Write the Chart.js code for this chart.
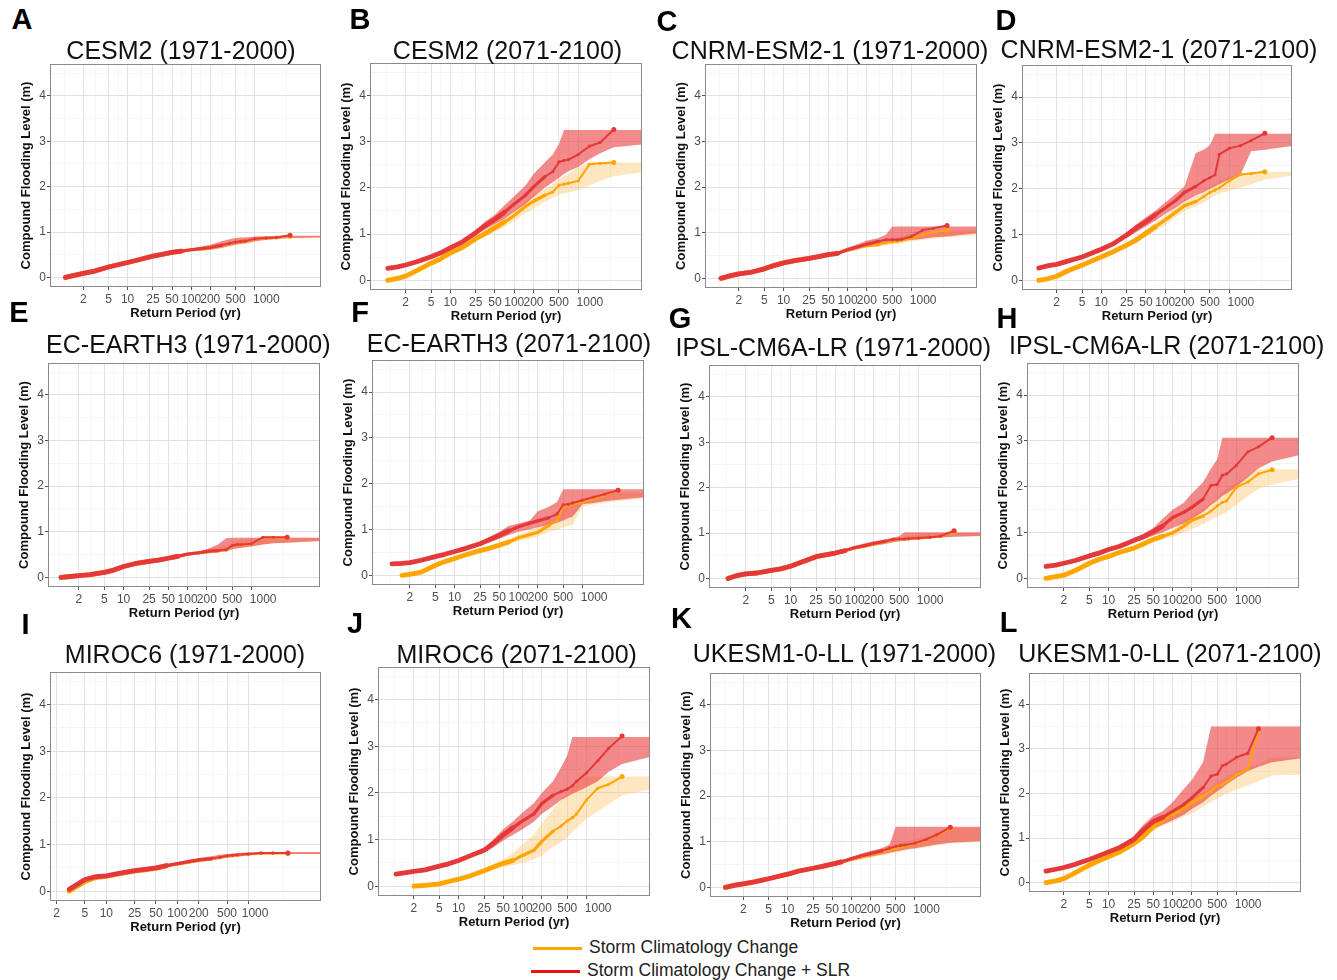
<!DOCTYPE html>
<html>
<head>
<meta charset="utf-8">
<script src="https://cdn.jsdelivr.net/npm/chart.js@4.4.1/dist/chart.umd.min.js"></script>
<style>
  body { margin: 0; background: #fff; width: 1337px; height: 980px; position: relative; overflow: hidden;
         font-family: "Liberation Sans", Arial, Helvetica, sans-serif; }
  .ptitle { position: absolute; font-size: 25px; line-height: 1; color: #111; white-space: nowrap; transform: translate(-50%, -50%); }
  .letter { position: absolute; font-size: 29px; line-height: 1; font-weight: bold; color: #000; transform: translate(-50%, -50%); }
  .lg-line { position: absolute; height: 3px; }
  .lg-text { position: absolute; font-size: 17.5px; line-height: 1; color: #222; white-space: nowrap; transform: translateY(-50%); }
</style>
</head>
<body>
<script>
// return periods (yr) shared by every line; bands get one extra point past the axis end
const RP = [1.05, 1.5, 2, 3, 5, 7, 10, 15, 25, 35, 50, 70, 100, 150, 200, 300, 400, 500, 600, 700, 1000, 1500, 2200, 3600];
const RP_BAND = RP.concat([12000]);

const X_MAJOR = [2, 5, 10, 25, 50, 100, 200, 500, 1000];
const X_MINOR = [1, 3.16, 7.07, 15.8, 35.4, 70.7, 141, 316, 707, 3162];
const Y_MAJOR = [0, 1, 2, 3, 4];
const Y_MINOR = [0.5, 1.5, 2.5, 3.5, 4.5];

// A  CESM2 (1971-2000)
const aRed      = [0.00,0.05,0.09,0.14,0.23,0.28,0.33,0.39,0.47,0.51,0.55,0.58,0.61,0.64,0.66,0.71,0.75,0.78,0.79,0.80,0.85,0.87,0.88,0.93];
const aRedLo    = [-0.02,0.03,0.07,0.12,0.21,0.26,0.31,0.37,0.45,0.49,0.53,0.56,0.58,0.60,0.61,0.65,0.69,0.72,0.74,0.75,0.80,0.83,0.85,0.87,0.88];
const aRedHi    = [0.02,0.07,0.11,0.16,0.25,0.30,0.35,0.41,0.49,0.53,0.57,0.60,0.63,0.68,0.72,0.80,0.84,0.87,0.88,0.88,0.90,0.91,0.92,0.92,0.92];
const aOrange   = [0.00,0.05,0.09,0.14,0.23,0.28,0.33,0.39,0.47,0.51,0.55,0.58,0.61,0.63,0.65,0.70,0.74,0.77,0.78,0.79,0.84,0.86,0.87,0.91];
const aOrangeLo = [-0.02,0.03,0.07,0.12,0.21,0.26,0.31,0.37,0.45,0.49,0.53,0.56,0.59,0.60,0.61,0.65,0.68,0.71,0.73,0.74,0.78,0.82,0.84,0.86,0.87];
const aOrangeHi = [0.02,0.07,0.11,0.16,0.25,0.30,0.35,0.41,0.49,0.53,0.57,0.60,0.63,0.66,0.69,0.75,0.79,0.82,0.84,0.85,0.88,0.90,0.91,0.91,0.91];

// B  CESM2 (2071-2100)
const bRed      = [0.26,0.29,0.33,0.40,0.51,0.59,0.70,0.82,1.03,1.18,1.32,1.47,1.65,1.84,2.02,2.24,2.35,2.56,2.59,2.61,2.72,2.90,2.98,3.26];
const bRedLo    = [0.23,0.26,0.30,0.37,0.48,0.56,0.67,0.79,0.98,1.10,1.22,1.33,1.48,1.65,1.80,2.00,2.12,2.22,2.30,2.36,2.45,2.62,2.75,2.88,2.95];
const bRedHi    = [0.29,0.32,0.36,0.43,0.54,0.62,0.73,0.85,1.08,1.27,1.42,1.62,1.82,2.05,2.30,2.55,2.72,2.95,3.25,3.25,3.25,3.25,3.25,3.25,3.25];
const bOrange   = [0.00,0.04,0.09,0.21,0.37,0.46,0.59,0.70,0.90,1.01,1.14,1.26,1.40,1.60,1.71,1.84,1.91,2.06,2.08,2.10,2.15,2.51,2.53,2.55];
const bOrangeLo = [-0.03,0.01,0.06,0.18,0.34,0.43,0.56,0.67,0.85,0.95,1.05,1.15,1.28,1.45,1.55,1.70,1.78,1.85,1.88,1.90,1.95,2.05,2.15,2.25,2.35];
const bOrangeHi = [0.03,0.07,0.12,0.24,0.40,0.49,0.62,0.73,0.95,1.08,1.22,1.36,1.50,1.72,1.85,1.98,2.08,2.20,2.25,2.30,2.45,2.55,2.55,2.55,2.55];

// C  CNRM-ESM2-1 (1971-2000)
const cRed      = [0.00,0.06,0.10,0.13,0.21,0.28,0.34,0.39,0.44,0.48,0.52,0.55,0.63,0.70,0.75,0.81,0.85,0.85,0.85,0.86,0.92,1.06,1.10,1.16];
const cRedLo    = [-0.02,0.04,0.08,0.11,0.19,0.26,0.32,0.37,0.42,0.46,0.50,0.53,0.58,0.64,0.70,0.74,0.78,0.80,0.81,0.82,0.84,0.87,0.90,0.92,1.00];
const cRedHi    = [0.02,0.08,0.12,0.15,0.23,0.30,0.36,0.41,0.46,0.50,0.54,0.57,0.68,0.76,0.83,0.88,0.96,1.14,1.14,1.14,1.14,1.14,1.14,1.14,1.14];
const cOrange   = [0.00,0.06,0.10,0.13,0.21,0.28,0.34,0.39,0.44,0.48,0.52,0.55,0.63,0.69,0.72,0.74,0.78,0.80,0.81,0.83,0.88,0.96,1.02,1.05];
const cOrangeLo = [-0.02,0.04,0.08,0.11,0.19,0.26,0.32,0.37,0.42,0.46,0.50,0.53,0.60,0.65,0.68,0.70,0.73,0.75,0.76,0.78,0.81,0.84,0.87,0.90,0.95];
const cOrangeHi = [0.02,0.08,0.12,0.15,0.23,0.30,0.36,0.41,0.46,0.50,0.54,0.57,0.66,0.73,0.77,0.80,0.84,0.88,0.90,0.92,0.97,1.03,1.05,1.05,1.05];

// D  CNRM-ESM2-1 (2071-2100)
const dRed      = [0.27,0.32,0.35,0.42,0.51,0.59,0.68,0.79,0.99,1.14,1.28,1.43,1.58,1.76,1.92,2.05,2.17,2.24,2.30,2.75,2.88,2.94,3.05,3.21];
const dRedLo    = [0.24,0.29,0.32,0.39,0.48,0.56,0.65,0.76,0.93,1.05,1.18,1.30,1.45,1.60,1.72,1.85,1.93,2.00,2.05,2.10,2.20,2.30,2.82,2.85,2.95];
const dRedHi    = [0.30,0.35,0.38,0.45,0.54,0.62,0.71,0.82,1.05,1.22,1.38,1.52,1.70,1.90,2.05,2.78,2.85,2.95,3.20,3.20,3.20,3.20,3.20,3.20,3.20];
const dOrange   = [0.00,0.04,0.09,0.21,0.33,0.42,0.51,0.62,0.77,0.88,1.03,1.17,1.32,1.50,1.63,1.72,1.83,1.92,1.97,2.02,2.17,2.31,2.33,2.37];
const dOrangeLo = [-0.03,0.01,0.06,0.18,0.30,0.39,0.48,0.59,0.72,0.82,0.95,1.08,1.20,1.40,1.52,1.62,1.70,1.78,1.85,1.90,1.95,2.02,2.10,2.20,2.30];
const dOrangeHi = [0.03,0.07,0.12,0.24,0.36,0.45,0.54,0.65,0.82,0.95,1.10,1.25,1.42,1.62,1.75,1.85,1.95,2.05,2.12,2.18,2.25,2.32,2.36,2.37,2.37];

// E  EC-EARTH3 (1971-2000)
const eRed      = [0.00,0.02,0.04,0.06,0.11,0.16,0.24,0.30,0.35,0.38,0.42,0.46,0.51,0.54,0.57,0.59,0.61,0.70,0.72,0.72,0.74,0.88,0.88,0.88];
const eRedLo    = [-0.02,0.00,0.02,0.04,0.09,0.14,0.22,0.28,0.33,0.36,0.40,0.44,0.49,0.52,0.53,0.55,0.57,0.62,0.64,0.65,0.68,0.72,0.75,0.76,0.80];
const eRedHi    = [0.02,0.04,0.06,0.08,0.13,0.18,0.26,0.32,0.37,0.40,0.44,0.48,0.53,0.56,0.62,0.72,0.86,0.87,0.87,0.87,0.87,0.87,0.87,0.87,0.87];
const eOrange   = [0.00,0.02,0.04,0.06,0.11,0.16,0.24,0.30,0.35,0.38,0.42,0.46,0.51,0.54,0.56,0.58,0.60,0.69,0.71,0.71,0.73,0.87,0.87,0.87];
const eOrangeLo = [-0.02,0.00,0.02,0.04,0.09,0.14,0.22,0.28,0.33,0.36,0.40,0.44,0.49,0.52,0.53,0.55,0.57,0.62,0.64,0.65,0.68,0.72,0.75,0.76,0.80];
const eOrangeHi = [0.02,0.04,0.06,0.08,0.13,0.18,0.26,0.32,0.37,0.40,0.44,0.48,0.53,0.56,0.60,0.66,0.70,0.76,0.80,0.82,0.85,0.87,0.87,0.87,0.87];

// F  EC-EARTH3 (2071-2100)
const fRed      = [0.25,0.26,0.28,0.33,0.41,0.46,0.52,0.59,0.69,0.78,0.87,0.97,1.06,1.14,1.19,1.26,1.34,1.54,1.55,1.58,1.64,1.71,1.77,1.86];
const fRedLo    = [0.22,0.23,0.25,0.30,0.38,0.43,0.49,0.56,0.65,0.72,0.80,0.88,0.95,1.00,1.05,1.10,1.15,1.20,1.25,1.28,1.55,1.58,1.62,1.65,1.72];
const fRedHi    = [0.28,0.29,0.31,0.36,0.44,0.49,0.55,0.62,0.73,0.84,0.95,1.08,1.13,1.20,1.40,1.50,1.60,1.88,1.88,1.88,1.88,1.88,1.88,1.88,1.88];
const fOrange   = [null,0.00,0.02,0.07,0.22,0.30,0.37,0.45,0.54,0.59,0.66,0.73,0.82,0.89,0.94,1.09,1.19,1.51,1.52,1.55,1.60,1.67,1.75,1.86];
const fOrangeLo = [null,-0.03,-0.01,0.04,0.18,0.26,0.33,0.41,0.50,0.55,0.61,0.67,0.75,0.80,0.85,0.95,1.00,1.05,1.08,1.10,1.50,1.55,1.58,1.62,1.70];
const fOrangeHi = [null,0.03,0.05,0.10,0.26,0.34,0.41,0.49,0.58,0.63,0.70,0.78,0.90,0.98,1.05,1.20,1.30,1.55,1.58,1.60,1.65,1.72,1.78,1.80,1.80];

// G  IPSL-CM6A-LR (1971-2000)
const gRed      = [0.00,0.07,0.10,0.12,0.18,0.21,0.27,0.36,0.48,0.52,0.56,0.61,0.68,0.73,0.77,0.82,0.86,0.87,0.87,0.88,0.89,0.91,0.93,1.05];
const gRedLo    = [-0.02,0.05,0.08,0.10,0.16,0.19,0.25,0.34,0.46,0.50,0.54,0.59,0.64,0.68,0.72,0.76,0.80,0.82,0.83,0.84,0.86,0.88,0.90,0.92,0.94];
const gRedHi    = [0.02,0.09,0.12,0.14,0.20,0.23,0.29,0.38,0.50,0.54,0.58,0.63,0.71,0.78,0.82,0.86,0.90,0.93,1.02,1.02,1.02,1.02,1.02,1.02,1.02];
const gOrange   = [0.00,0.07,0.10,0.12,0.18,0.21,0.27,0.36,0.48,0.52,0.56,0.61,0.67,0.72,0.76,0.81,0.85,0.86,0.86,0.87,0.88,0.90,0.92,1.03];
const gOrangeLo = [-0.02,0.05,0.08,0.10,0.16,0.19,0.25,0.34,0.46,0.50,0.54,0.59,0.64,0.68,0.72,0.76,0.80,0.82,0.83,0.84,0.86,0.88,0.90,0.92,0.94];
const gOrangeHi = [0.02,0.09,0.12,0.14,0.20,0.23,0.29,0.38,0.50,0.54,0.58,0.63,0.70,0.76,0.80,0.85,0.88,0.90,0.92,0.94,0.97,0.99,1.00,1.00,1.00];

// H  IPSL-CM6A-LR (2071-2100)
const hRed      = [0.26,0.29,0.33,0.39,0.49,0.55,0.63,0.70,0.83,0.91,1.02,1.14,1.33,1.44,1.55,1.73,2.03,2.05,2.25,2.28,2.47,2.76,2.87,3.07];
const hRedLo    = [0.23,0.26,0.30,0.36,0.46,0.52,0.60,0.67,0.79,0.85,0.93,1.00,1.10,1.20,1.30,1.45,1.60,1.70,1.80,1.85,2.00,2.20,2.40,2.55,2.72];
const hRedHi    = [0.29,0.32,0.36,0.42,0.52,0.58,0.66,0.73,0.87,0.97,1.10,1.30,1.50,1.65,1.85,2.10,2.40,2.60,3.07,3.07,3.07,3.07,3.07,3.07,3.07];
const hOrange   = [0.00,0.04,0.07,0.17,0.33,0.41,0.48,0.57,0.66,0.75,0.85,0.92,0.99,1.14,1.27,1.36,1.47,1.58,1.66,1.69,1.99,2.10,2.28,2.37];
const hOrangeLo = [-0.03,0.01,0.04,0.14,0.30,0.38,0.45,0.54,0.63,0.71,0.80,0.86,0.90,1.00,1.08,1.18,1.28,1.35,1.40,1.45,1.60,1.80,1.95,2.05,2.20];
const hOrangeHi = [0.03,0.07,0.10,0.20,0.36,0.44,0.51,0.60,0.69,0.79,0.90,0.98,1.05,1.25,1.40,1.52,1.65,1.78,1.90,1.95,2.10,2.25,2.38,2.38,2.38];

// I  MIROC6 (1971-2000)
const iRed      = [null,null,null,0.04,0.25,0.31,0.33,0.38,0.44,0.47,0.50,0.55,0.59,0.64,0.67,0.70,0.73,0.76,0.77,0.78,0.80,0.82,0.82,0.82];
const iRedLo    = [null,null,null,0.01,0.22,0.28,0.30,0.35,0.41,0.44,0.47,0.52,0.56,0.60,0.63,0.66,0.69,0.72,0.73,0.74,0.77,0.79,0.80,0.80,0.80];
const iRedHi    = [null,null,null,0.07,0.28,0.34,0.36,0.41,0.47,0.50,0.53,0.58,0.62,0.68,0.71,0.75,0.78,0.80,0.81,0.82,0.83,0.84,0.84,0.84,0.84];
const iOrange   = [null,null,null,0.00,0.21,0.29,0.32,0.37,0.43,0.46,0.49,0.54,0.58,0.63,0.66,0.69,0.72,0.75,0.76,0.77,0.79,0.81,0.81,0.81];
const iOrangeLo = [null,null,null,-0.02,0.18,0.26,0.29,0.34,0.40,0.43,0.46,0.51,0.55,0.60,0.63,0.66,0.69,0.72,0.73,0.74,0.76,0.78,0.79,0.79,0.79];
const iOrangeHi = [null,null,null,0.02,0.24,0.32,0.35,0.40,0.46,0.49,0.52,0.57,0.61,0.66,0.69,0.72,0.75,0.78,0.79,0.80,0.82,0.83,0.83,0.83,0.83];

// J  MIROC6 (2071-2100)
const jRed      = [0.26,0.29,0.32,0.35,0.43,0.48,0.55,0.65,0.77,0.92,1.10,1.25,1.40,1.55,1.77,1.95,2.03,2.08,2.15,2.25,2.43,2.69,2.95,3.22];
const jRedLo    = [0.23,0.26,0.29,0.32,0.40,0.45,0.52,0.62,0.72,0.83,0.98,1.10,1.22,1.38,1.55,1.72,1.85,1.92,1.98,2.02,2.12,2.25,2.45,2.62,2.80];
const jRedHi    = [0.29,0.32,0.35,0.38,0.46,0.51,0.58,0.68,0.82,1.00,1.22,1.38,1.58,1.78,2.00,2.25,2.55,2.80,3.20,3.20,3.20,3.20,3.20,3.20,3.20];
const jOrange   = [null,null,0.00,0.02,0.05,0.10,0.15,0.22,0.33,0.41,0.49,0.55,0.66,0.77,0.96,1.18,1.29,1.40,1.47,1.55,1.85,2.10,2.18,2.35];
const jOrangeLo = [null,null,-0.03,-0.01,0.02,0.07,0.12,0.19,0.30,0.37,0.42,0.45,0.50,0.58,0.65,0.85,0.95,1.05,1.15,1.25,1.45,1.60,1.75,1.95,2.10];
const jOrangeHi = [null,null,0.03,0.05,0.08,0.13,0.18,0.25,0.36,0.45,0.58,0.70,0.90,1.10,1.35,1.65,1.85,2.00,2.10,2.30,2.35,2.35,2.35,2.35,2.35];

// K  UKESM1-0-LL (1971-2000)
const kRed      = [0.00,0.05,0.08,0.12,0.19,0.24,0.29,0.36,0.42,0.46,0.51,0.56,0.63,0.70,0.74,0.80,0.86,0.90,0.92,0.93,0.97,1.05,1.15,1.32];
const kRedLo    = [-0.02,0.03,0.06,0.10,0.17,0.22,0.27,0.34,0.40,0.44,0.49,0.53,0.58,0.64,0.67,0.72,0.76,0.79,0.81,0.83,0.86,0.90,0.94,0.98,1.02];
const kRedHi    = [0.02,0.07,0.10,0.14,0.21,0.26,0.31,0.38,0.44,0.48,0.53,0.59,0.67,0.75,0.80,0.86,0.94,1.33,1.33,1.33,1.33,1.33,1.33,1.33,1.33];
const kOrange   = [0.00,0.05,0.08,0.12,0.19,0.24,0.29,0.36,0.42,0.46,0.51,0.56,0.62,0.68,0.72,0.77,0.82,0.86,0.88,0.90,0.95,1.03,1.13,1.30];
const kOrangeLo = [-0.02,0.03,0.06,0.10,0.17,0.22,0.27,0.34,0.40,0.44,0.49,0.53,0.57,0.62,0.65,0.70,0.74,0.77,0.79,0.81,0.84,0.88,0.92,0.96,1.00];
const kOrangeHi = [0.02,0.07,0.10,0.14,0.21,0.26,0.31,0.38,0.44,0.48,0.53,0.59,0.66,0.73,0.78,0.84,0.90,0.95,0.98,1.00,1.05,1.12,1.20,1.30,1.30];

// L  UKESM1-0-LL (2071-2100)
const lRed      = [0.26,0.30,0.34,0.41,0.52,0.60,0.69,0.79,0.97,1.18,1.37,1.46,1.60,1.75,1.90,2.13,2.39,2.43,2.62,2.66,2.81,2.90,3.45,null];
const lRedLo    = [0.23,0.27,0.31,0.38,0.49,0.57,0.66,0.76,0.88,1.00,1.20,1.30,1.40,1.52,1.65,1.80,1.95,2.05,2.12,2.20,2.35,2.50,2.60,2.70,2.80];
const lRedHi    = [0.29,0.33,0.37,0.44,0.55,0.63,0.72,0.82,1.05,1.30,1.50,1.60,1.80,2.10,2.30,2.70,3.50,3.50,3.50,3.50,3.50,3.50,3.50,3.50,3.50];
const lOrange   = [0.00,0.04,0.09,0.22,0.39,0.49,0.58,0.69,0.88,1.03,1.26,1.41,1.52,1.68,1.79,1.94,2.05,2.17,2.20,2.26,2.42,2.55,3.40,null];
const lOrangeLo = [-0.03,0.01,0.06,0.19,0.36,0.46,0.55,0.66,0.84,0.97,1.15,1.28,1.35,1.48,1.55,1.70,1.80,1.88,1.95,2.00,2.08,2.18,2.28,2.40,2.42];
const lOrangeHi = [0.03,0.07,0.12,0.25,0.42,0.52,0.61,0.72,0.92,1.10,1.35,1.50,1.62,1.78,1.88,2.02,2.15,2.27,2.32,2.38,2.48,2.58,2.65,2.80,2.82];

const FONT = '"Liberation Sans", Arial, Helvetica, sans-serif';
const RED = '#e5383b';
const ORANGE = '#ffa500';
const RED_BAND = 'rgba(234, 66, 66, 0.62)';
const ORANGE_BAND = 'rgba(253, 188, 92, 0.38)';
const GRID_MAJOR = '#e2e2e2';
const GRID_MINOR = '#efefef';

Chart.defaults.font.family = FONT;

// plot rect = [left, top, right, bottom] of the panel area in page pixels
const panels = [
  { letter: 'A', lp: [22, 19],   title: 'CESM2 (1971-2000)',        tc: [181, 49.5],  rect: [50, 64, 322, 287],   x2: 31.7,
    red: aRed, redLo: aRedLo, redHi: aRedHi, orange: aOrange, orangeLo: aOrangeLo, orangeHi: aOrangeHi },
  { letter: 'B', lp: [360, 19],  title: 'CESM2 (2071-2100)',        tc: [507.5, 49.7], rect: [370, 63, 643, 290], x2: 35.7,
    red: bRed, redLo: bRedLo, redHi: bRedHi, orange: bOrange, orangeLo: bOrangeLo, orangeHi: bOrangeHi },
  { letter: 'C', lp: [667, 21],  title: 'CNRM-ESM2-1 (1971-2000)',  tc: [830, 49.7],  rect: [705, 64, 978, 288],  x2: 34,
    red: cRed, redLo: cRedLo, redHi: cRedHi, orange: cOrange, orangeLo: cOrangeLo, orangeHi: cOrangeHi },
  { letter: 'D', lp: [1006, 19.5], title: 'CNRM-ESM2-1 (2071-2100)', tc: [1159, 48.8], rect: [1022, 65, 1293, 290], x2: 34.7,
    red: dRed, redLo: dRedLo, redHi: dRedHi, orange: dOrange, orangeLo: dOrangeLo, orangeHi: dOrangeHi },
  { letter: 'E', lp: [19, 312],  title: 'EC-EARTH3 (1971-2000)',    tc: [188.3, 344], rect: [48, 363, 321, 587],  x2: 31,
    red: eRed, redLo: eRedLo, redHi: eRedHi, orange: eOrange, orangeLo: eOrangeLo, orangeHi: eOrangeHi },
  { letter: 'F', lp: [360, 312], title: 'EC-EARTH3 (2071-2100)',    tc: [509, 343.3], rect: [372, 360, 645, 585], x2: 38,
    red: fRed, redLo: fRedLo, redHi: fRedHi, orange: fOrange, orangeLo: fOrangeLo, orangeHi: fOrangeHi },
  { letter: 'G', lp: [680, 318], title: 'IPSL-CM6A-LR (1971-2000)', tc: [833.3, 347], rect: [709, 365, 982, 588], x2: 37,
    red: gRed, redLo: gRedLo, redHi: gRedHi, orange: gOrange, orangeLo: gOrangeLo, orangeHi: gOrangeHi },
  { letter: 'H', lp: [1007, 318], title: 'IPSL-CM6A-LR (2071-2100)', tc: [1166.7, 345], rect: [1027, 363, 1300, 588], x2: 37,
    red: hRed, redLo: hRedLo, redHi: hRedHi, orange: hOrange, orangeLo: hOrangeLo, orangeHi: hOrangeHi },
  { letter: 'I', lp: [25.5, 624], title: 'MIROC6 (1971-2000)',      tc: [185, 654],   rect: [50, 672, 322, 901],  x2: 6.7, perDec: 71.3, shift: 4,
    red: iRed, redLo: iRedLo, redHi: iRedHi, orange: iOrange, orangeLo: iOrangeLo, orangeHi: iOrangeHi },
  { letter: 'J', lp: [355, 623], title: 'MIROC6 (2071-2100)',       tc: [516.7, 654], rect: [378, 667, 651, 896], x2: 36,
    red: jRed, redLo: jRedLo, redHi: jRedHi, orange: jOrange, orangeLo: jOrangeLo, orangeHi: jOrangeHi },
  { letter: 'K', lp: [681.5, 618], title: 'UKESM1-0-LL (1971-2000)', tc: [844.5, 653], rect: [710, 673, 982, 897], x2: 32,
    red: kRed, redLo: kRedLo, redHi: kRedHi, orange: kOrange, orangeLo: kOrangeLo, orangeHi: kOrangeHi },
  { letter: 'L', lp: [1008.5, 622], title: 'UKESM1-0-LL (2071-2100)', tc: [1170, 653.3], rect: [1029, 673, 1302, 892], x2: 35,
    red: lRed, redLo: lRedLo, redHi: lRedHi, orange: lOrange, orangeLo: lOrangeLo, orangeHi: lOrangeHi }
];

// full box round the plotting area, like theme_bw
const frame = {
  id: 'frame',
  afterDatasetsDraw(chart) {
    const { ctx, chartArea: a } = chart;
    ctx.save();
    ctx.strokeStyle = '#8a8a8a';
    ctx.lineWidth = 1;
    ctx.strokeRect(Math.round(a.left) + 0.5, Math.round(a.top) + 0.5,
                   Math.round(a.right - a.left) - 1, Math.round(a.bottom - a.top) - 1);
    ctx.restore();
  }
};

function pts(xs, ys) {
  return xs.map((x, i) => ({ x: x, y: ys[i] }));
}

function lastIndex(ys) {
  let k = -1;
  ys.forEach((v, i) => { if (v !== null) k = i; });
  return k;
}

function lineSet(ys, color) {
  const last = lastIndex(ys);
  return {
    data: pts(RP, ys),
    borderColor: color,
    backgroundColor: color,
    pointBackgroundColor: color,
    pointBorderWidth: 0,
    pointRadius: c => c.dataIndex === last ? 2.5 : (c.parsed && c.parsed.x >= 150 ? 1.6 : 0),
    borderWidth: 2,
    borderCapStyle: 'round',
    borderJoinStyle: 'round',
    segment: {
      borderWidth: s => s.p0.parsed.x < 70 ? 4.8 : (s.p0.parsed.x < 300 ? 3.2 : 2)
    },
    tension: 0,
    fill: false
  };
}

function bandSet(ys, color, fill) {
  return {
    data: pts(RP_BAND, ys),
    borderWidth: 0,
    borderColor: 'rgba(0,0,0,0)',
    backgroundColor: color,
    pointRadius: 0,
    tension: 0,
    fill: fill
  };
}

function addText(cls, text, x, y) {
  const d = document.createElement('div');
  d.className = cls;
  d.textContent = text;
  d.style.left = x + 'px';
  d.style.top = y + 'px';
  document.body.appendChild(d);
}

function buildPanel(p) {
  const YW = 32, XH = 36, PT = 10, PR = 3;
  const [L, T, R, B] = p.rect;
  const w = R - L + YW + PR, h = B - T + PT + XH;
  const perDec = p.perDec || 64.2;
  const xMin = 2 / Math.pow(10, p.x2 / perDec);
  const xMax = xMin * Math.pow(10, (R - L) / perDec);
  const pad1000 = ' '.repeat(p.shift === undefined ? 7 : p.shift) + '1000';

  const holder = document.createElement('div');
  holder.style.cssText = `position:absolute;left:${L - YW}px;top:${T - PT}px;width:${w}px;height:${h}px;`;
  const cv = document.createElement('canvas');
  cv.width = w;
  cv.height = h;
  holder.appendChild(cv);
  document.body.appendChild(holder);

  const xTicks = X_MAJOR.concat(X_MINOR).sort((a, b) => a - b);
  const yTicks = Y_MAJOR.concat(Y_MINOR).sort((a, b) => a - b);
  const isMajorX = t => t && X_MAJOR.includes(t.value);
  const isMajorY = t => t && Y_MAJOR.includes(t.value);

  new Chart(cv, {
    type: 'line',
    data: {
      datasets: [
        lineSet(p.red, RED),
        lineSet(p.orange, ORANGE),
        bandSet(p.redHi, RED_BAND, '+1'),
        bandSet(p.redLo, RED_BAND, false),
        bandSet(p.orangeHi, ORANGE_BAND, '+1'),
        bandSet(p.orangeLo, ORANGE_BAND, false)
      ]
    },
    options: {
      responsive: false,
      animation: false,
      events: [],
      layout: { padding: { top: PT, right: PR, left: 0, bottom: 0 } },
      plugins: { legend: { display: false }, tooltip: { enabled: false } },
      scales: {
        x: {
          type: 'logarithmic',
          min: xMin,
          max: xMax,
          afterBuildTicks: s => { s.ticks = xTicks.filter(v => v >= xMin && v <= xMax).map(v => ({ value: v })); },
          afterFit: s => { s.height = XH; },
          border: { display: false },
          grid: {
            color: c => isMajorX(c.tick) ? GRID_MAJOR : GRID_MINOR,
            lineWidth: c => isMajorX(c.tick) ? 1 : 0.7,
            drawTicks: true,
            tickLength: 3,
            tickColor: c => isMajorX(c.tick) ? '#555' : 'rgba(0,0,0,0)',
            tickWidth: 1
          },
          ticks: {
            autoSkip: false, maxRotation: 0, minRotation: 0, padding: 2,
            color: '#4d4d4d', font: { size: 12 },
            callback: v => X_MAJOR.includes(v) ? (v === 1000 ? pad1000 : String(v)) : ''
          },
          title: {
            display: true, text: 'Return Period (yr)', color: '#111',
            font: { size: 13, weight: 'bold' }, padding: { top: 0, bottom: 2 }
          }
        },
        y: {
          type: 'linear',
          min: -0.21,
          max: 4.7,
          afterBuildTicks: s => { s.ticks = yTicks.map(v => ({ value: v })); },
          afterFit: s => { s.width = YW; },
          border: { display: false },
          grid: {
            color: c => isMajorY(c.tick) ? GRID_MAJOR : GRID_MINOR,
            lineWidth: c => isMajorY(c.tick) ? 1 : 0.7,
            drawTicks: true,
            tickLength: 3,
            tickColor: c => isMajorY(c.tick) ? '#555' : 'rgba(0,0,0,0)',
            tickWidth: 1
          },
          ticks: {
            padding: 1, color: '#4d4d4d', font: { size: 12 },
            callback: v => Y_MAJOR.includes(v) ? String(v) : ''
          },
          title: {
            display: true, text: 'Compound Flooding Level (m)', color: '#111',
            font: { size: 13, weight: 'bold' }, padding: { top: 1, bottom: 0 }
          }
        }
      }
    },
    plugins: [frame]
  });

  addText('ptitle', p.title, p.tc[0], p.tc[1]);
  addText('letter', p.letter, p.lp[0], p.lp[1]);
}

panels.forEach(buildPanel);

// legend at the bottom
function legendRow(color, lineLeft, y, textLeft, label) {
  const ln = document.createElement('div');
  ln.className = 'lg-line';
  ln.style.cssText += `left:${lineLeft}px;top:${y - 1.5}px;width:49px;background:${color};`;
  document.body.appendChild(ln);
  addText('lg-text', label, textLeft, y);
}
legendRow('#ffa500', 533, 948, 589, 'Storm Climatology Change');
legendRow('#ee1111', 531, 971, 587, 'Storm Climatology Change + SLR');
</script>
</body>
</html>
